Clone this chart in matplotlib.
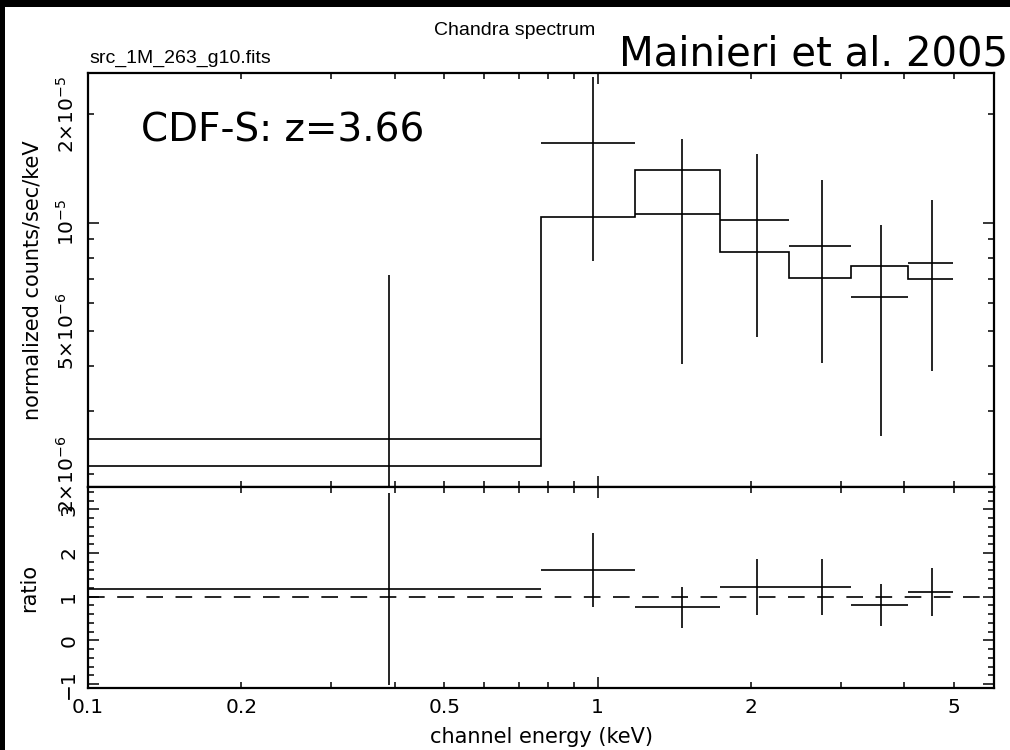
import matplotlib
matplotlib.use("Agg")
import matplotlib.pyplot as plt
from matplotlib.patches import Rectangle
from matplotlib.ticker import FixedLocator, FuncFormatter, NullFormatter

# channel bins (keV) and spectrum
bin_edges = [0.003, 0.775, 1.187, 1.738, 2.379, 3.138, 4.077, 4.974]
data_flux = [2.50e-6, 1.664e-5, 1.055e-5, 1.016e-5, 8.60e-6, 6.21e-6, 7.73e-6]
data_err = [4.64e-6, 8.8e-6, 6.5e-6, 5.35e-6, 4.53e-6, 3.65e-6, 3.86e-6]
model_flux = [2.11e-6, 1.035e-5, 1.398e-5, 8.29e-6, 7.01e-6, 7.58e-6, 6.99e-6]

x_major = [0.1, 1]
x_minor = [0.2, 0.3, 0.4, 0.5, 0.6, 0.7, 0.8, 0.9, 2, 3, 4, 5, 6]
x_labeled = [0.1, 0.2, 0.5, 1, 2, 5]
y_major = [1e-5]
y_minor = [2e-6, 3e-6, 4e-6, 5e-6, 6e-6, 7e-6, 8e-6, 9e-6, 2e-5]
y_tick_text = {2e-6: r"$2{\times}10^{-6}$", 5e-6: r"$5{\times}10^{-6}$",
               1e-5: r"$10^{-5}$", 2e-5: r"$2{\times}10^{-5}$"}
ratio_major = [-1, 0, 1, 2, 3]

W, H = 1010, 750
plt.rcParams["font.family"] = ["DejaVu Sans"]
plt.rcParams["mathtext.fontset"] = "dejavusans"

centers = [(lo + hi) / 2 for lo, hi in zip(bin_edges[:-1], bin_edges[1:])]
half = [(hi - lo) / 2 for lo, hi in zip(bin_edges[:-1], bin_edges[1:])]
ratio = [d / m for d, m in zip(data_flux, model_flux)]
ratio_err = [e / m for e, m in zip(data_err, model_flux)]

fig = plt.figure(figsize=(W / 100, H / 100), dpi=100, facecolor="white")
ax = fig.add_axes([88 / W, 1 - 487 / H, 906 / W, 414 / H])
axr = fig.add_axes([88 / W, 1 - 688 / H, 906 / W, 201 / H])

LW = 1.2


def fmt_x(v, pos):
    for t in x_labeled:
        if abs(v - t) < 1e-9:
            return f"{t:g}"
    return ""


def fmt_y(v, pos):
    for t, s in y_tick_text.items():
        if abs(v - t) / t < 1e-6:
            return s
    return ""


for a in (ax, axr):
    a.set_xscale("log")
    a.set_xlim(0.1, 6)
    a.xaxis.set_major_locator(FixedLocator(x_major))
    a.xaxis.set_minor_locator(FixedLocator(x_minor))
    a.tick_params(which="both", direction="in", top=True, right=True,
                  width=1.1, labelsize=14.5, pad=7)
    a.tick_params(which="major", length=8)
    a.tick_params(which="minor", length=4.3)
    a.tick_params(axis="y", which="both", labelrotation=90)
    for s in a.spines.values():
        s.set_linewidth(1.6)

ax.xaxis.set_major_formatter(NullFormatter())
ax.xaxis.set_minor_formatter(NullFormatter())
axr.xaxis.set_major_formatter(FuncFormatter(fmt_x))
axr.xaxis.set_minor_formatter(FuncFormatter(fmt_x))

# spectrum panel
ax.set_yscale("log")
ax.set_ylim(1.845e-6, 2.606e-5)
ax.yaxis.set_major_locator(FixedLocator(y_major))
ax.yaxis.set_minor_locator(FixedLocator(y_minor))
ax.yaxis.set_major_formatter(FuncFormatter(fmt_y))
ax.yaxis.set_minor_formatter(FuncFormatter(fmt_y))
ax.stairs(model_flux, bin_edges, baseline=None, color="k", lw=LW)
ax.errorbar(centers, data_flux, xerr=half, yerr=data_err, fmt="none",
            ecolor="k", elinewidth=LW, capsize=0)

# ratio panel
axr.set_ylim(-1.09, 3.51)
axr.yaxis.set_major_locator(FixedLocator(ratio_major))
axr.yaxis.set_minor_locator(FixedLocator([v / 5 for v in range(-5, 18)]))
axr.axhline(1, color="k", lw=LW, ls=(0, (10, 7.5)))
axr.errorbar(centers, ratio, xerr=half, yerr=ratio_err, fmt="none",
             ecolor="k", elinewidth=LW, capsize=0)

for a in (ax, axr):
    for t in a.yaxis.get_major_ticks() + a.yaxis.get_minor_ticks():
        t.label1.set_va("center")

ax.set_ylabel("normalized counts/sec/keV", fontsize=15)
ax.yaxis.set_label_coords((33 - 88) / 906, 0.5)
ax.yaxis.label.set_va("center")
axr.set_ylabel("ratio", fontsize=15)
axr.yaxis.set_label_coords((29 - 88) / 906, 0.5)
axr.yaxis.label.set_va("center")
axr.set_xlabel("channel energy (keV)", fontsize=15)
axr.xaxis.set_label_coords(0.5, (688 - 737) / 201)
axr.xaxis.label.set_va("center")

thin = ["Liberation Sans", "DejaVu Sans"]
fig.text(515 / W, 1 - 35 / H, "Chandra spectrum", fontsize=14, family=thin,
         ha="center", va="baseline")
fig.text(89 / W, 1 - 63 / H, "src_1M_263_g10.fits", fontsize=14, family=thin,
         ha="left", va="baseline")
fig.text(1008 / W, 1 - 66 / H, "Mainieri et al. 2005", fontsize=29,
         ha="right", va="baseline")
fig.text(141 / W, 1 - 142 / H, "CDF-S: z=3.66", fontsize=28,
         ha="left", va="baseline")

# black slide frame along the top and left edge
fig.add_artist(Rectangle((0, 1 - 7 / H), 1, 7 / H, transform=fig.transFigure,
                         color="black", lw=0))
fig.add_artist(Rectangle((0, 0), 5 / W, 1, transform=fig.transFigure,
                         color="black", lw=0))

fig.savefig("out.png", dpi=100, facecolor="white")
